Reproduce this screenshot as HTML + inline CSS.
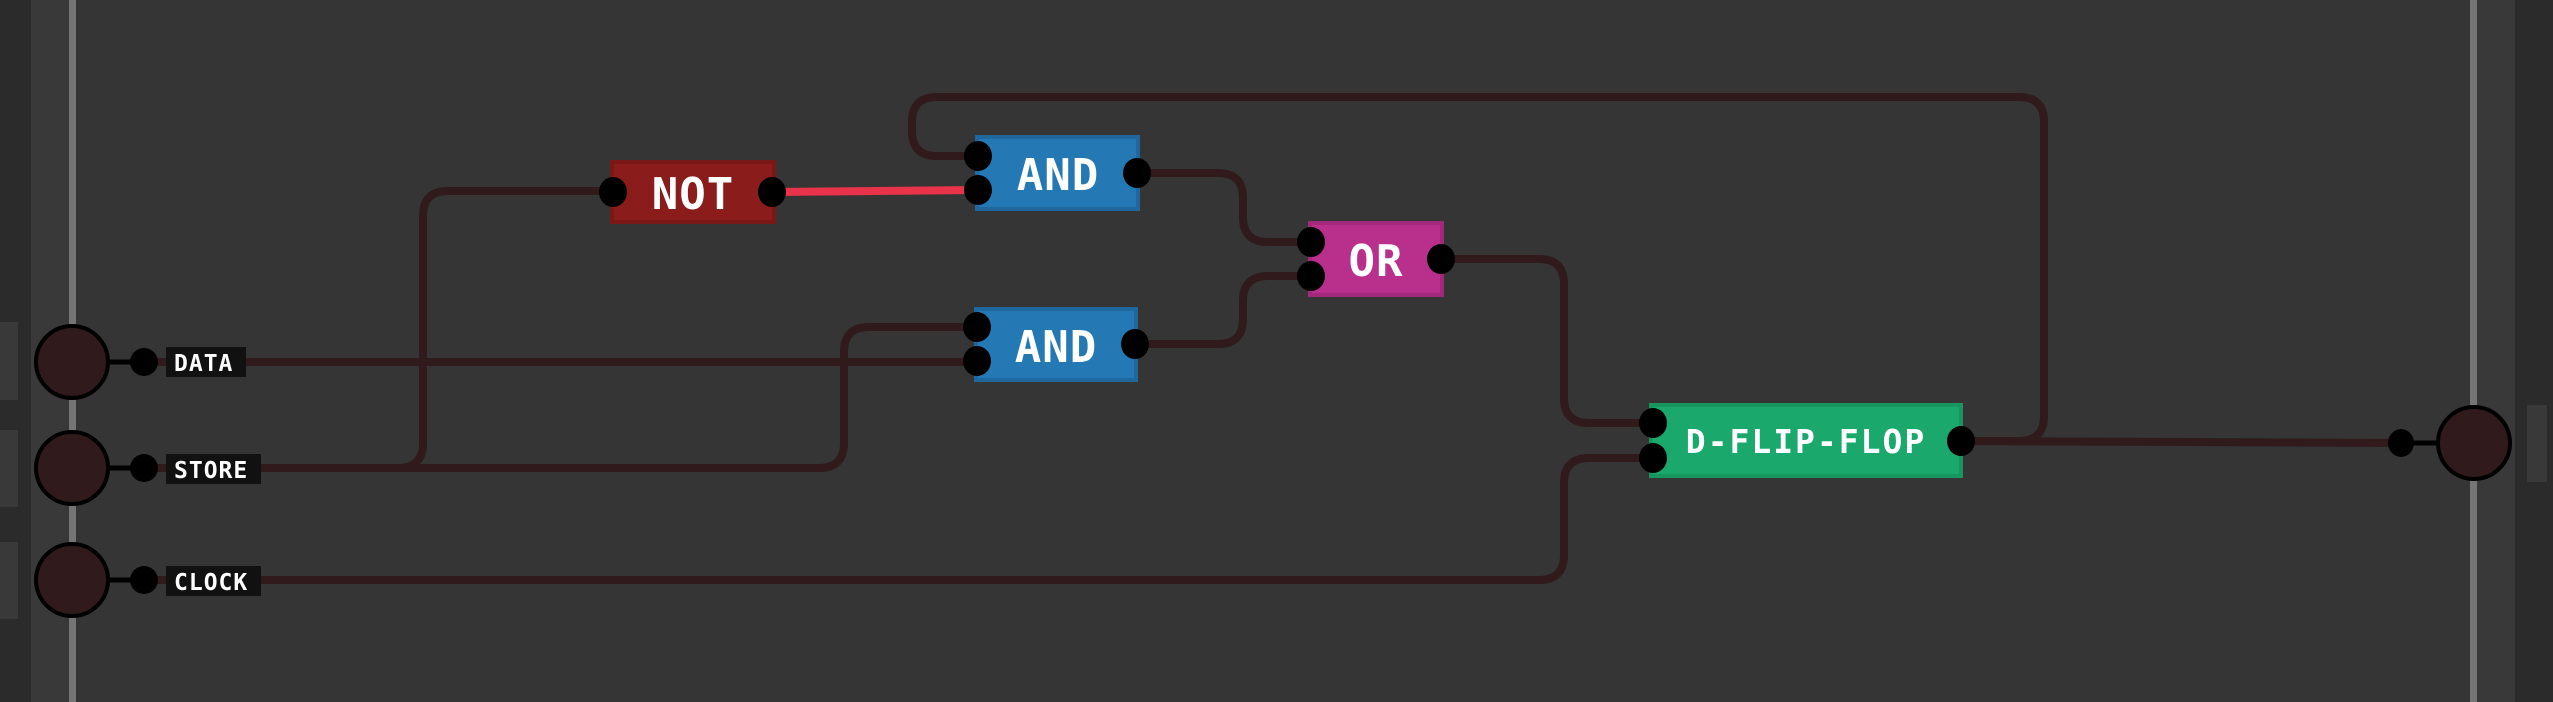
<!DOCTYPE html>
<html><head><meta charset="utf-8"><style>
html,body{margin:0;padding:0;background:#353535;width:2553px;height:702px;overflow:hidden}
svg{display:block}
.g{font-family:"DejaVu Sans Mono","Liberation Mono",monospace;font-weight:bold;fill:#fff}
</style></head><body>
<svg width="2553" height="702" viewBox="0 0 2553 702" xmlns="http://www.w3.org/2000/svg">
<rect width="2553" height="702" fill="#353535"/>
<rect x="0" y="0" width="31" height="702" fill="#2b2b2b"/>
<rect x="31" y="0" width="38" height="702" fill="#393939"/>
<rect x="69" y="0" width="7" height="702" fill="#757575"/>
<rect x="0" y="322" width="18" height="78" fill="#393939"/>
<rect x="0" y="430" width="18" height="77" fill="#393939"/>
<rect x="0" y="542" width="18" height="77" fill="#393939"/>
<rect x="2515" y="0" width="38" height="702" fill="#2b2b2b"/>
<rect x="2477" y="0" width="38" height="702" fill="#393939"/>
<rect x="2470" y="0" width="7" height="702" fill="#757575"/>
<rect x="2527" y="405" width="20" height="77" fill="#393939"/>

<g fill="none" stroke="#311a1b" stroke-width="8" stroke-linecap="round">
<path d="M144 362 H978"/>
<path d="M144 468 H398 Q423 468 423 443 V216 Q423 191 448 191 H613"/>
<path d="M144 468 H819 Q844 468 844 443 V352 Q844 327 869 327 H978"/>
<path d="M1961 441 H2019 Q2044 441 2044 416 V122 Q2044 97 2019 97 H937 Q912 97 912 122 V131 Q912 156 937 156 H978"/>
<path d="M1137 173 H1218 Q1243 173 1243 198 V217 Q1243 242 1268 242 H1311"/>
<path d="M1135 344 H1218 Q1243 344 1243 319 V301 Q1243 276 1268 276 H1311"/>
<path d="M1441 259 H1539 Q1564 259 1564 284 V398 Q1564 423 1589 423 H1653"/>
<path d="M144 580 H1539 Q1564 580 1564 555 V483 Q1564 458 1589 458 H1653"/>
<path d="M1961 441 L2401 443"/>
</g>
<path d="M772 192 L978 190" stroke="#e8334a" stroke-width="8"/>

<g stroke="#000" stroke-width="5">
<line x1="72" y1="362" x2="144" y2="362"/><line x1="72" y1="468" x2="144" y2="468"/><line x1="72" y1="580" x2="144" y2="580"/>
<line x1="2401" y1="443" x2="2474" y2="443"/>
</g>
<g fill="#311a1b" stroke="#000" stroke-width="4">
<circle cx="72" cy="362" r="36"/><circle cx="72" cy="468" r="36"/><circle cx="72" cy="580" r="36"/>
<circle cx="2474" cy="443" r="36"/>
</g>
<g fill="#000">
<circle cx="144" cy="362" r="14"/><circle cx="144" cy="468" r="14"/><circle cx="144" cy="580" r="14"/>
<ellipse cx="2401" cy="443" rx="13" ry="14"/>
</g>
<rect x="166" y="347" width="80" height="30" fill="#111"/>
<rect x="166" y="454" width="95" height="30" fill="#111"/>
<rect x="166" y="566" width="95" height="30" fill="#111"/>
<g class="g" font-size="23" letter-spacing="1">
<text x="174" y="371">DATA</text><text x="174" y="478">STORE</text><text x="174" y="590">CLOCK</text>
</g>

<rect x="612" y="162" width="162" height="60" fill="#8b1c1c" stroke="#7a1717" stroke-width="4"/>
<rect x="977" y="137" width="161" height="72" fill="#2479b4" stroke="#1f679c" stroke-width="4"/>
<rect x="976" y="309" width="160" height="71" fill="#2479b4" stroke="#1f679c" stroke-width="4"/>
<rect x="1310" y="223" width="132" height="72" fill="#b82f8c" stroke="#a1287a" stroke-width="4"/>
<rect x="1651" y="405" width="310" height="71" fill="#1aa86c" stroke="#17965f" stroke-width="4"/>
<g class="g" font-size="44" text-anchor="middle" letter-spacing="1">
<text x="693" y="209">NOT</text>
<text x="1058" y="190">AND</text>
<text x="1056" y="362">AND</text>
<text x="1376" y="276">OR</text>
</g>
<text class="g" x="1806" y="453" font-size="33" text-anchor="middle" letter-spacing="2">D-FLIP-FLOP</text>

<g fill="#000">
<ellipse cx="613" cy="192" rx="14" ry="15"/><ellipse cx="772" cy="192" rx="14" ry="15"/>
<ellipse cx="978" cy="156" rx="14" ry="15"/><ellipse cx="978" cy="190" rx="14" ry="15"/><ellipse cx="1137" cy="173" rx="14" ry="15"/>
<ellipse cx="977" cy="327" rx="14" ry="15"/><ellipse cx="977" cy="361" rx="14" ry="15"/><ellipse cx="1135" cy="344" rx="14" ry="15"/>
<ellipse cx="1311" cy="242" rx="14" ry="15"/><ellipse cx="1311" cy="276" rx="14" ry="15"/><ellipse cx="1441" cy="259" rx="14" ry="15"/>
<ellipse cx="1653" cy="423" rx="14" ry="15"/><ellipse cx="1653" cy="458" rx="14" ry="15"/><ellipse cx="1961" cy="441" rx="14" ry="15"/>
</g>
</svg>
</body></html>
